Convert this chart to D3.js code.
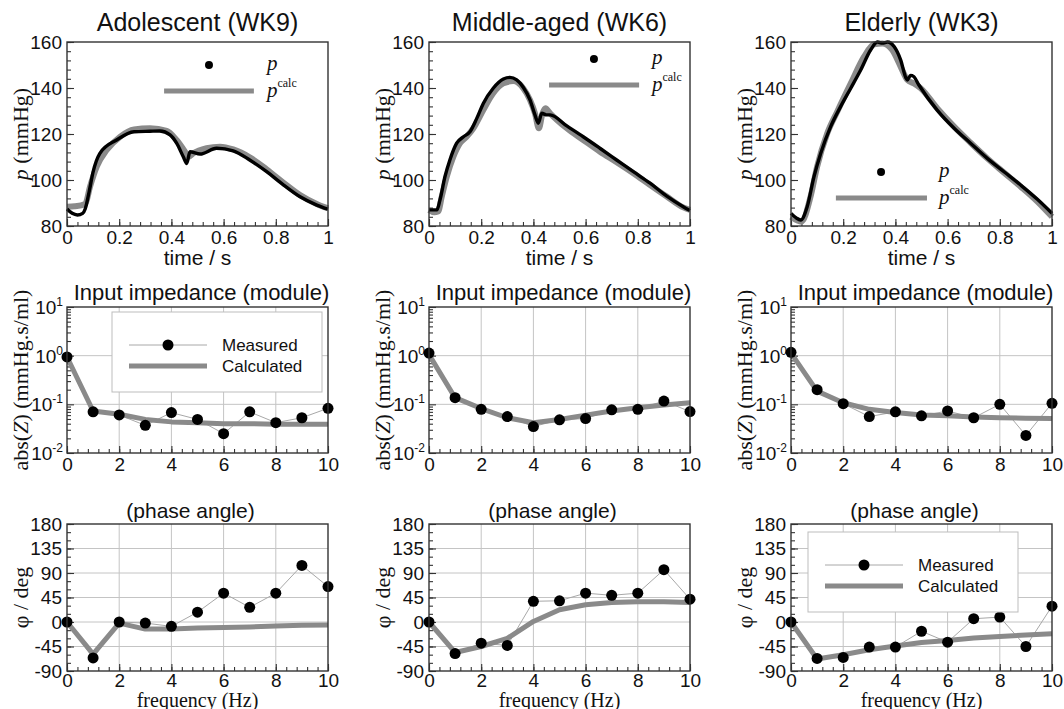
<!DOCTYPE html>
<html>
<head>
<meta charset="utf-8">
<title>Pressure waveforms and input impedance</title>
<script src="https://cdn.jsdelivr.net/npm/d3@7"></script>
<style>
  body { margin: 0; background: #fff; }
  svg { display: block; }
  .tick text { font-family: "Liberation Sans", Arial, sans-serif; font-size: 19px; fill: #111; }
  .tick line { stroke: #333; }
  .sans { font-family: "Liberation Sans", Arial, sans-serif; fill: #111; }
  .serif { font-family: "Liberation Serif", "Times New Roman", serif; fill: #111; }
</style>
</head>
<body>
<div id="chart"></div>
<script>
// ---- values ----
const groupTitles = ["Adolescent (WK9)", "Middle-aged (WK6)", "Elderly (WK3)"];

// pressure waveforms [t (s), p (mmHg)]
const adolescentMeasured = [[0,87.4],[0.02,85.5],[0.04,84.8],[0.06,85.5],[0.07,87.5],[0.085,95],[0.1,103.5],[0.126,111.6],[0.19,117.4],[0.257,121],[0.318,121.2],[0.356,121.3],[0.395,119.6],[0.42,116],[0.446,110],[0.459,107.2],[0.471,112.3],[0.51,111.3],[0.573,113.8],[0.637,112.7],[0.7,108.7],[0.765,103.6],[0.83,97.8],[0.893,92.7],[0.957,89.1],[1,87.3]];
const adolescentCalc = [[0,88.4],[0.03,88.6],[0.07,89.6],[0.088,97],[0.114,105.8],[0.152,113],[0.203,118.8],[0.257,122],[0.318,122.5],[0.382,121.4],[0.42,117.4],[0.452,112.3],[0.465,110],[0.484,111.6],[0.535,113.8],[0.586,114.5],[0.637,113.3],[0.7,109.9],[0.765,104.6],[0.83,98.8],[0.893,93.5],[0.957,89.6],[1,87.7]];

const middleMeasured = [[0,87],[0.03,87],[0.042,91.3],[0.061,101.4],[0.08,108.7],[0.106,116],[0.132,118.8],[0.157,121],[0.183,126.8],[0.208,133.3],[0.246,139.9],[0.285,143.9],[0.31,144.6],[0.336,143.5],[0.361,140.3],[0.387,134.8],[0.406,128.3],[0.419,124.7],[0.432,129],[0.451,128.3],[0.464,128.3],[0.528,123.5],[0.591,118.8],[0.655,113.8],[0.719,108.7],[0.783,103.6],[0.847,98.6],[0.911,93],[0.974,88.4],[1,86.7]];
const middleCalc = [[0,87],[0.02,86],[0.035,86.3],[0.049,92.8],[0.068,101.4],[0.093,110],[0.119,116],[0.144,118.8],[0.17,122.5],[0.208,130.4],[0.246,137.7],[0.285,142],[0.323,143],[0.361,139.9],[0.387,134.8],[0.406,129],[0.421,122.5],[0.435,129],[0.446,131.2],[0.464,129],[0.528,122.5],[0.591,117.4],[0.655,112.3],[0.719,107.7],[0.783,102.9],[0.847,97.8],[0.911,92.8],[0.974,88.1],[1,87]];

const elderlyMeasured = [[0,85.5],[0.02,83.5],[0.037,82.6],[0.062,88.4],[0.088,101.4],[0.114,111.6],[0.152,123.2],[0.19,131.9],[0.229,139.9],[0.267,147.8],[0.305,156.5],[0.331,160],[0.35,159.5],[0.37,160],[0.395,158],[0.42,152.2],[0.44,144.5],[0.446,143.5],[0.458,145.5],[0.47,145],[0.49,141.3],[0.56,130.4],[0.625,122.5],[0.688,116],[0.752,109.4],[0.816,103.6],[0.88,97.8],[0.944,91.6],[1,85.5]];
const elderlyCalc = [[0,84],[0.04,81.9],[0.075,92.8],[0.1,105.8],[0.139,120.3],[0.177,129.7],[0.229,142],[0.28,153.6],[0.318,159],[0.35,159.4],[0.388,156.5],[0.42,149.3],[0.446,143.5],[0.471,142],[0.497,139.9],[0.56,131.2],[0.625,123.2],[0.688,116.2],[0.752,109.4],[0.816,103.2],[0.88,97.1],[0.944,90.6],[1,84]];

// input impedance, harmonics 0..10 Hz
const freqHz = [0, 1, 2, 3, 4, 5, 6, 7, 8, 9, 10];
const adolescentModMeas = [0.94, 0.07, 0.0605, 0.037, 0.0676, 0.049, 0.025, 0.07, 0.042, 0.053, 0.083];
const adolescentModCalc = [0.94, 0.073, 0.0625, 0.049, 0.0436, 0.042, 0.040, 0.040, 0.039, 0.039, 0.039];
const middleModMeas = [1.13, 0.137, 0.079, 0.056, 0.035, 0.048, 0.051, 0.077, 0.079, 0.117, 0.071];
const middleModCalc = [1.05, 0.137, 0.082, 0.053, 0.042, 0.049, 0.06, 0.073, 0.085, 0.097, 0.108];
const elderlyModMeas = [1.17, 0.20, 0.103, 0.056, 0.070, 0.058, 0.073, 0.053, 0.10, 0.023, 0.105];
const elderlyModCalc = [1.13, 0.187, 0.108, 0.079, 0.068, 0.0605, 0.058, 0.055, 0.053, 0.052, 0.051];

const adolescentPhaseMeas = [0, -66, 0, -2, -8, 18, 53, 27, 53, 104, 65];
const adolescentPhaseCalc = [0, -59, -2, -13, -13, -11, -10, -9, -7.5, -6, -5.5];
const middlePhaseMeas = [0, -58, -39, -43, 38, 39, 53, 49, 53, 96, 42];
const middlePhaseCalc = [0, -56, -45, -30, 1, 22.5, 31.6, 36, 37, 37, 36];
const elderlyPhaseMeas = [0, -67, -65, -46, -46, -17, -37, 6, 9, -45, 29];
const elderlyPhaseCalc = [0, -68, -60, -51, -44, -37.5, -34, -29.5, -26.5, -24, -21.5];

// tick labels
const timeTicks = [0, 0.2, 0.4, 0.6, 0.8, 1];
const pressureTicks = [80, 100, 120, 140, 160];
const freqTicks = [0, 2, 4, 6, 8, 10];
const moduleTicks = [0.01, 0.1, 1, 10];
const phaseTicks = [-90, -45, 0, 45, 90, 135, 180];

const pressureSets = [[adolescentMeasured, adolescentCalc], [middleMeasured, middleCalc], [elderlyMeasured, elderlyCalc]];
const moduleSets = [[adolescentModMeas, adolescentModCalc], [middleModMeas, middleModCalc], [elderlyModMeas, elderlyModCalc]];
const phaseSets = [[adolescentPhaseMeas, adolescentPhaseCalc], [middlePhaseMeas, middlePhaseCalc], [elderlyPhaseMeas, elderlyPhaseCalc]];

// ---- layout ----
const colLeft = [67, 429, 791];
const plotW = 261;
const rowPressure = { top: 42, h: 184 };
const rowModule = { top: 307, h: 146 };
const rowPhase = { top: 524, h: 147 };
const grey = "#8a8a8a";
const thin = "#a8a8a8";

const svg = d3.select("#chart").append("svg").attr("width", 1064).attr("height", 709);

function drawAxes(g, x, y, h, o) {
  const bottom = g.append("g").attr("transform", `translate(0,${h})`);
  bottom.append("g").call(d3.axisBottom(x).tickValues(o.xMinor).tickSize(-4).tickFormat(""));
  bottom.append("g").call(d3.axisBottom(x).tickValues(o.xMajor).tickSize(-7)
    .tickPadding(o.xPad || 5).tickFormat(o.xFmt));
  const left = g.append("g");
  left.append("g").call(d3.axisLeft(y).tickValues(o.yMinor).tickSize(-4).tickFormat(""));
  left.append("g").call(d3.axisLeft(y).tickValues(o.yMajor).tickSize(-7).tickPadding(5).tickFormat(o.yFmt));
  g.selectAll(".domain").remove();
  g.selectAll(".tick line").attr("stroke-width", 1.1);
}

function drawGrid(g, x, y, h, xs, ys) {
  const grid = g.append("g").attr("stroke", "#c4c4c4").attr("stroke-width", 1);
  grid.selectAll(".gx").data(xs).join("line")
    .attr("x1", d => x(d)).attr("x2", d => x(d)).attr("y1", 0).attr("y2", h);
  grid.selectAll(".gy").data(ys).join("line")
    .attr("x1", 0).attr("x2", plotW).attr("y1", d => y(d)).attr("y2", d => y(d));
}

function drawFrame(g, h) {
  g.append("rect").attr("width", plotW).attr("height", h)
    .attr("fill", "none").attr("stroke", "#333").attr("stroke-width", 1.4);
}

function yLabel(g, h, build) {
  const t = g.append("text").attr("class", "serif").attr("font-size", 22)
    .attr("text-anchor", "middle")
    .attr("transform", `translate(${28 - 67},${h / 2}) rotate(-90)`);
  build(t);
}

function legendBox(g, bx, by) {
  const lg = g.append("g").attr("transform", `translate(${bx},${by})`);
  lg.append("rect").attr("width", 210).attr("height", 80)
    .attr("fill", "#fff").attr("stroke", "#bdbdbd").attr("stroke-width", 1);
  lg.append("line").attr("x1", 17).attr("x2", 95).attr("y1", 33).attr("y2", 33)
    .attr("stroke", thin).attr("stroke-width", 1);
  lg.append("circle").attr("cx", 56).attr("cy", 33).attr("r", 5.5).attr("fill", "#000");
  lg.append("line").attr("x1", 17).attr("x2", 95).attr("y1", 54).attr("y2", 54)
    .attr("stroke", grey).attr("stroke-width", 5);
  lg.append("text").attr("class", "sans").attr("font-size", 17).attr("x", 110).attr("y", 39).text("Measured");
  lg.append("text").attr("class", "sans").attr("font-size", 17).attr("x", 110).attr("y", 60).text("Calculated");
}

// legend spots for the pressure panels (data coordinates)
const pLegend = [
  { dot: [0.544, 150], line: [0.372, 0.716, 138.7], tx: 0.766 },
  { dot: [0.632, 152.6], line: [0.46, 0.805, 141.3], tx: 0.854 },
  { dot: [0.345, 103.5], line: [0.172, 0.521, 92.2], tx: 0.567 }
];

colLeft.forEach((left, i) => {
  // ---- row 1: pressure ----
  {
    const h = rowPressure.h;
    const g = svg.append("g").attr("transform", `translate(${left},${rowPressure.top})`);
    const x = d3.scaleLinear().domain([0, 1]).range([0, plotW]);
    const y = d3.scaleLinear().domain([80, 160]).range([h, 0]);
    drawAxes(g, x, y, h, {
      xMajor: timeTicks, xMinor: d3.range(0, 1.001, 0.04), xFmt: d => String(d),
      yMajor: pressureTicks, yMinor: d3.range(80, 160.1, 4), yFmt: d => String(d)
    });
    const line = d3.line().x(d => x(d[0])).y(d => y(d[1])).curve(d3.curveMonotoneX);
    const [meas, calc] = pressureSets[i];
    g.append("path").datum(calc).attr("d", line).attr("fill", "none")
      .attr("stroke", grey).attr("stroke-width", 6).attr("stroke-linejoin", "round");
    g.append("path").datum(meas).attr("d", line).attr("fill", "none")
      .attr("stroke", "#000").attr("stroke-width", 3.4).attr("stroke-linejoin", "round");
    drawFrame(g, h);

    const L = pLegend[i];
    g.append("circle").attr("cx", x(L.dot[0])).attr("cy", y(L.dot[1])).attr("r", 4).attr("fill", "#000");
    g.append("line").attr("x1", x(L.line[0])).attr("x2", x(L.line[1]))
      .attr("y1", y(L.line[2])).attr("y2", y(L.line[2])).attr("stroke", grey).attr("stroke-width", 5);
    g.append("text").attr("class", "serif").attr("font-size", 21).attr("font-style", "italic")
      .attr("x", x(L.tx)).attr("y", y(L.dot[1]) + 5).text("p");
    const pc = g.append("text").attr("class", "serif").attr("font-size", 21)
      .attr("x", x(L.tx)).attr("y", y(L.line[2]) + 6);
    pc.append("tspan").attr("font-style", "italic").text("p");
    pc.append("tspan").attr("font-size", 12).attr("dy", -10).text("calc");

    g.append("text").attr("class", "sans").attr("font-size", 25).attr("text-anchor", "middle")
      .attr("x", plotW / 2).attr("y", 31 - rowPressure.top).text(groupTitles[i]);
    g.append("text").attr("class", "sans").attr("font-size", 21).attr("text-anchor", "middle")
      .attr("x", plotW / 2).attr("y", 265 - rowPressure.top).text("time / s");
    yLabel(g, h, t => {
      t.append("tspan").attr("font-style", "italic").text("p");
      t.append("tspan").text(" (mmHg)");
    });
  }

  // ---- row 2: impedance module ----
  {
    const h = rowModule.h;
    const g = svg.append("g").attr("transform", `translate(${left},${rowModule.top})`);
    const x = d3.scaleLinear().domain([0, 10]).range([0, plotW]);
    const y = d3.scaleLog().domain([0.01, 10]).range([h, 0]);
    const logMinor = [];
    [0.01, 0.1, 1].forEach(dec => d3.range(2, 10).forEach(k => logMinor.push(dec * k)));
    drawGrid(g, x, y, h, [2, 4, 6, 8], [0.1, 1]);
    drawAxes(g, x, y, h, {
      xMajor: freqTicks, xMinor: d3.range(0, 10.01, 0.4), xFmt: d => String(d),
      yMajor: moduleTicks, yMinor: logMinor, yFmt: () => ""
    });
    g.append("g").selectAll("text").data(moduleTicks).join("text")
      .attr("class", "sans").attr("font-size", 19).attr("text-anchor", "end")
      .attr("x", -4).attr("y", d => y(d)).attr("dy", "0.36em")
      .each(function (d) {
        const t = d3.select(this);
        t.append("tspan").text("10");
        t.append("tspan").attr("font-size", 12).attr("dy", -8).text(String(Math.round(Math.log10(d))));
      });
    const [meas, calc] = moduleSets[i];
    const line = d3.line().x((d, k) => x(freqHz[k])).y(d => y(d));
    g.append("path").datum(meas).attr("d", line).attr("fill", "none").attr("stroke", thin).attr("stroke-width", 1);
    g.append("path").datum(calc).attr("d", line).attr("fill", "none").attr("stroke", grey)
      .attr("stroke-width", 5).attr("stroke-linejoin", "round");
    g.append("g").selectAll("circle").data(meas).join("circle")
      .attr("cx", (d, k) => x(freqHz[k])).attr("cy", d => y(d)).attr("r", 5.5).attr("fill", "#000");
    drawFrame(g, h);
    if (i === 0) legendBox(g, 45, 5);

    g.append("text").attr("class", "sans").attr("font-size", 22).attr("text-anchor", "middle")
      .attr("x", plotW / 2 + 4).attr("y", 300 - rowModule.top).text("Input impedance (module)");
    yLabel(g, h, t => {
      t.append("tspan").text("abs(");
      t.append("tspan").attr("font-style", "italic").text("Z");
      t.append("tspan").text(") (mmHg.s/ml)");
    });
  }

  // ---- row 3: phase angle ----
  {
    const h = rowPhase.h;
    const g = svg.append("g").attr("transform", `translate(${left},${rowPhase.top})`);
    const x = d3.scaleLinear().domain([0, 10]).range([0, plotW]);
    const y = d3.scaleLinear().domain([-90, 180]).range([h, 0]);
    drawGrid(g, x, y, h, [2, 4, 6, 8], [-45, 0, 45, 90, 135]);
    drawAxes(g, x, y, h, {
      xMajor: freqTicks, xMinor: d3.range(0, 10.01, 0.4), xFmt: d => String(d), xPad: 2,
      yMajor: phaseTicks, yMinor: d3.range(-90, 180.1, 15), yFmt: d => String(d)
    });
    const [meas, calc] = phaseSets[i];
    const line = d3.line().x((d, k) => x(freqHz[k])).y(d => y(d));
    g.append("path").datum(meas).attr("d", line).attr("fill", "none").attr("stroke", thin).attr("stroke-width", 1);
    g.append("path").datum(calc).attr("d", line).attr("fill", "none").attr("stroke", grey)
      .attr("stroke-width", 5).attr("stroke-linejoin", "round");
    g.append("g").selectAll("circle").data(meas).join("circle")
      .attr("cx", (d, k) => x(freqHz[k])).attr("cy", d => y(d)).attr("r", 5.5).attr("fill", "#000");
    drawFrame(g, h);
    if (i === 2) legendBox(g, 17, 8);

    g.append("text").attr("class", "sans").attr("font-size", 21).attr("text-anchor", "middle")
      .attr("x", plotW / 2 - 7).attr("y", 518 - rowPhase.top).text("(phase angle)");
    g.append("text").attr("class", "serif").attr("font-size", 20).attr("text-anchor", "middle")
      .attr("x", plotW / 2).attr("y", 707 - rowPhase.top).text("frequency (Hz)");
    yLabel(g, h, t => t.text("φ / deg"));
  }
});
</script>
</body>
</html>
